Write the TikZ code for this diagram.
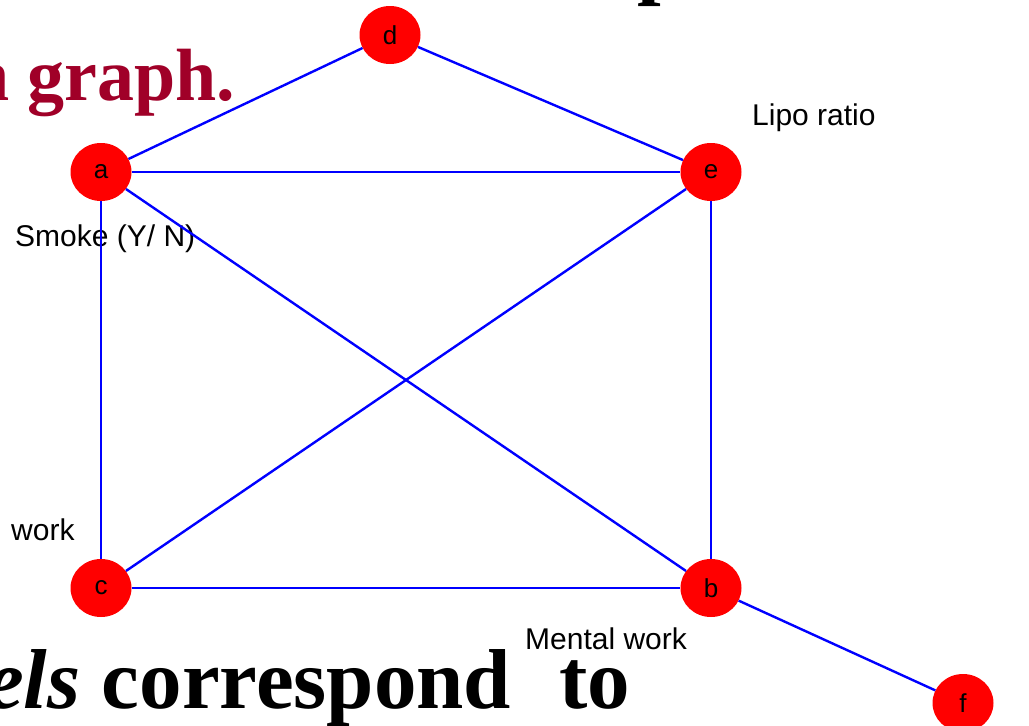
\documentclass[tikz,border=0pt]{standalone}
\usepackage{fontspec}
\setmainfont{Liberation Serif}
\setsansfont{Liberation Sans}
\usetikzlibrary{shapes.geometric}
\definecolor{titlered}{RGB}{160,0,40}
\begin{document}
\begin{tikzpicture}[x=1pt,y=-1pt,
 vtx/.style={ellipse, fill=red, minimum width=61pt, minimum height=58pt, inner sep=0pt, font=\fontsize{26}{26}\selectfont\sffamily},
 edge/.style={blue, line width=2.4pt},
 lbl/.style={anchor=base west, inner sep=0pt, font=\fontsize{30}{30}\selectfont\sffamily},
 big/.style={anchor=base west, inner sep=0pt, font=\fontsize{85}{85}\selectfont\bfseries},
 mid/.style={anchor=base west, inner sep=0pt, text=titlered, font=\fontsize{74}{74}\selectfont\bfseries}]
\useasboundingbox (0,0) rectangle (1029,726);
% slide text
\node[mid] (t1) at (-32,100) {n graph.};
\node[big] (t0) at (637,-12) {p};
\node[big] (t2) at (-14,708) {\textit{els} correspond};
\node[big] (t3) at (559,708) {to};
% labels
\node[lbl] (l1) at (752,125) {Lipo ratio};
\node[lbl] (l2) at (15,246) {Smoke (Y/ N)};
\node[lbl] (l3) at (11,540) {work};
\node[lbl] (l4) at (525,649) {Mental work};
% vertices
\node[vtx] (d) at (390,35) {d};
\node[vtx] (a) at (101,172) {a};
\node[vtx] (e) at (711,172) {e};
\node[vtx] (c) at (101,588) {c};
\node[vtx] (b) at (711,588) {b};
\node[vtx] (f) at (963,703) {f};
% edges
\draw[edge] (d) -- (a);
\draw[edge] (d) -- (e);
\draw[edge] (a) -- (e);
\draw[edge] (a) -- (c);
\draw[edge] (a) -- (b);
\draw[edge] (e) -- (c);
\draw[edge] (e) -- (b);
\draw[edge] (c) -- (b);
\draw[edge] (b) -- (f);
\end{tikzpicture}
\end{document}
